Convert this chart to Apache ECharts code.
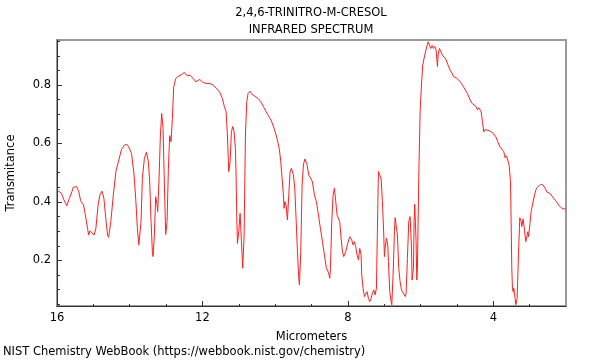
<!DOCTYPE html>
<html>
<head>
<meta charset="utf-8">
<script src="https://cdn.jsdelivr.net/npm/echarts@6/dist/echarts.min.js"></script>
<style>
  html, body { margin: 0; padding: 0; background: #fff; }
  #chart { width: 600px; height: 360px; }
</style>
</head>
<body>
<div id="chart"></div>
<script>
// Wavelength (micrometers) and transmittance
const wavelength = [
  15.99,15.88,15.81,15.73,15.66,15.59,15.55,15.46,15.40,15.35,15.27,15.22,15.16,15.13,15.09,15.036,14.98,14.93,14.87,14.82,
  14.76,14.71,14.65,14.61,14.58,14.52,14.45,14.38,14.30,14.23,14.14,14.08,14.03,13.95,13.88,13.83,13.79,13.75,13.71,
  13.688,13.652,13.597,13.542,13.487,13.450,13.413,13.377,13.358,13.322,13.285,13.248,13.230,13.193,13.156,13.120,13.083,
  13.046,13.010,12.973,12.936,12.900,12.863,12.826,12.790,12.735,12.680,12.625,12.570,12.496,12.441,12.386,12.331,12.258,
  12.184,12.129,12.074,12.001,11.928,11.799,11.708,11.616,11.524,11.451,11.396,
  11.349,11.313,11.276,11.239,11.203,11.166,11.129,11.093,11.074,11.056,11.037,11.001,10.964,10.927,10.891,10.854,10.817,
  10.781,10.744,10.689,10.634,10.561,10.469,10.396,10.322,10.249,10.194,10.102,10.029,9.974,9.919,9.882,9.845,9.809,
  9.772,9.754,9.735,9.699,9.662,9.625,9.589,9.552,9.497,9.460,9.424,9.387,9.350,9.332,9.295,9.259,9.222,9.185,9.130,
  9.075,9.020,
  8.975,8.920,8.865,8.810,8.755,8.700,8.645,8.590,8.534,8.498,8.479,8.443,8.406,8.369,8.333,8.296,8.259,8.223,8.186,
  8.149,8.113,8.058,8.003,7.948,7.893,7.856,7.819,7.783,7.746,7.709,7.673,7.636,7.618,7.581,7.544,7.507,7.471,7.434,
  7.397,7.361,7.324,7.287,7.251,7.214,7.177,7.159,7.122,7.086,7.049,7.012,6.994,6.976,6.939,6.902,6.884,6.847,6.811,
  6.792,6.756,6.719,
  6.700,6.673,6.637,6.600,6.563,6.527,6.472,6.417,6.398,6.362,6.325,6.288,6.252,6.233,6.196,6.178,6.160,6.123,6.105,
  6.086,6.050,6.013,5.976,5.940,5.885,5.830,5.793,5.756,5.720,5.683,5.646,5.610,5.573,5.536,5.518,5.481,5.426,5.389,
  5.353,5.316,5.279,5.243,5.188,5.133,5.096,5.023,4.949,4.876,4.821,4.766,4.711,4.674,4.638,4.583,4.546,4.472,4.436,
  4.399,4.362,
  4.334,4.298,4.261,4.224,4.169,4.096,4.004,3.931,3.876,3.821,3.766,3.711,3.674,3.637,3.601,3.564,3.527,3.509,3.491,
  3.472,3.454,3.436,3.399,3.381,3.362,3.344,3.307,3.271,3.234,3.216,3.179,3.142,3.106,3.069,3.051,3.032,2.995,2.959,
  2.922,2.867,2.812,2.757,2.702,2.665,2.629,2.574,2.519,2.445,2.390,2.335,2.262,2.188,2.133,2.060,2.005
];
const transmittance = [
  0.440,0.430,0.407,0.387,0.412,0.435,0.451,0.452,0.435,0.404,0.390,0.355,0.310,0.287,0.301,0.296,0.287,0.310,0.390,0.424,
  0.437,0.412,0.333,0.287,0.279,0.333,0.424,0.504,0.543,0.578,0.595,0.597,0.589,0.566,0.492,0.401,0.310,0.253,0.247,
  0.333,0.481,0.549,0.570,0.538,0.469,0.333,0.230,0.213,0.287,0.418,0.390,0.367,0.481,0.629,0.703,0.652,
  0.458,0.289,0.333,0.515,0.627,0.606,0.686,0.794,0.821,0.829,0.832,0.836,0.843,0.834,0.829,0.832,0.823,
  0.811,0.811,0.819,0.811,0.806,0.805,0.800,0.789,0.775,0.754,0.726,
  0.709,0.629,0.504,0.538,0.640,0.658,0.640,0.583,0.492,0.355,0.258,0.298,0.361,0.264,0.173,0.287,0.629,
  0.743,0.771,0.779,0.768,0.762,0.754,0.743,0.726,0.709,0.697,0.677,0.652,0.629,0.601,0.578,0.538,0.481,
  0.424,0.378,0.401,0.390,0.338,0.424,0.504,0.515,0.492,0.447,0.344,0.230,0.139,0.116,0.230,0.458,0.526,0.547,0.532,
  0.492,0.481,
  0.469,0.424,0.401,0.355,0.310,0.264,0.219,0.173,0.159,0.139,0.173,0.333,0.424,0.447,0.401,0.355,0.350,0.333,0.276,
  0.230,0.213,0.230,0.258,0.281,0.270,0.253,0.264,0.247,0.219,0.202,0.241,0.219,0.150,0.105,0.076,0.082,0.093,0.070,
  0.059,0.070,0.088,0.099,0.082,0.105,0.378,0.504,0.506,0.481,0.401,0.287,0.213,0.241,0.276,0.253,0.196,0.093,0.059,
  0.048,0.150,0.298,
  0.346,0.344,0.287,0.173,0.127,0.099,0.088,0.076,0.088,0.207,0.333,0.350,0.253,0.133,0.173,0.333,0.392,0.264,0.133,
  0.173,0.481,0.709,0.800,0.868,0.903,0.931,0.948,0.952,0.925,0.935,0.925,0.932,0.920,0.863,0.903,0.925,0.920,0.900,
  0.903,0.891,0.885,0.868,0.851,0.840,0.829,0.825,0.817,0.806,0.794,0.783,0.771,0.766,0.749,0.737,0.732,0.726,0.715,
  0.722,0.720,
  0.709,0.675,0.640,0.648,0.652,0.643,0.635,0.623,0.606,0.589,0.581,0.572,0.551,0.558,0.555,0.526,0.469,0.333,0.173,
  0.105,0.093,0.105,0.070,0.048,0.045,0.070,0.219,0.346,0.333,0.316,0.342,0.304,0.264,0.287,0.298,0.281,0.321,0.367,
  0.390,0.424,0.447,0.452,0.460,0.464,0.458,0.447,0.433,0.430,0.424,0.412,0.401,0.387,0.380,0.376,0.376
];
const xMajorTicks = [16, 12, 8, 4];
const xMinorTicks = [15, 14, 13, 11, 10, 9, 7, 6, 5, 3];
const yMajorTicks = [0.2, 0.4, 0.6, 0.8];
const yMinorTicks = [0.05, 0.1, 0.15, 0.25, 0.3, 0.35, 0.45, 0.5, 0.55, 0.65, 0.7, 0.75, 0.85, 0.9, 0.95];
const titleLines = ['2,4,6-TRINITRO-M-CRESOL', 'INFRARED SPECTRUM'];
const xName = 'Micrometers';
const yName = 'Transmitance';
const footer = 'NIST Chemistry WebBook (https://webbook.nist.gov/chemistry)';

const FONT = 'DejaVu Sans';
const FS = 11.5;
const points = wavelength.map((w, i) => [w, transmittance[i]]);

const chart = echarts.init(document.getElementById('chart'), null, { renderer: 'canvas' });
const xRange = { min: 2, max: 16, inverse: true };
const yRange = { min: 0.044, max: 0.954 };

chart.setOption({
  animation: false,
  backgroundColor: '#ffffff',
  grid: {
    left: 57, right: 34, top: 40, bottom: 54,
    containLabel: false, outerBoundsMode: 'none',
    show: true, borderColor: '#9a9a9a', borderWidth: 2, backgroundColor: 'transparent'
  },
  graphic: [
    { type: 'text', x: 311, y: 13, style: { text: titleLines[0], font: FS + 'px "' + FONT + '"', fill: '#000', textAlign: 'center', textVerticalAlign: 'middle' } },
    { type: 'text', x: 311, y: 30, style: { text: titleLines[1], font: FS + 'px "' + FONT + '"', fill: '#000', textAlign: 'center', textVerticalAlign: 'middle' } },
    { type: 'text', x: 3, y: 352, style: { text: footer, font: FS + 'px "' + FONT + '"', fill: '#000', textAlign: 'left', textVerticalAlign: 'middle' } }
  ],
  xAxis: [
    Object.assign({
      type: 'value', position: 'bottom',
      name: xName, nameLocation: 'middle', nameGap: 25,
      nameTextStyle: { fontFamily: FONT, fontSize: FS, color: '#000' },
      axisLine: { show: true, onZero: false, lineStyle: { color: '#333', width: 1 } },
      axisTick: { show: true, inside: true, length: 5, customValues: xMajorTicks, lineStyle: { color: '#333' } },
      axisLabel: { show: true, customValues: xMajorTicks, fontFamily: FONT, fontSize: FS, color: '#000', margin: 6 },
      splitLine: { show: false }
    }, xRange),
    Object.assign({
      type: 'value', position: 'bottom',
      axisLine: { show: false },
      axisTick: { show: true, inside: true, length: 2, customValues: xMinorTicks, lineStyle: { color: '#333' } },
      axisLabel: { show: false },
      splitLine: { show: false }
    }, xRange)
  ],
  yAxis: [
    Object.assign({
      type: 'value', position: 'left',
      name: yName, nameLocation: 'middle', nameGap: 40, nameRotate: 90,
      nameTextStyle: { fontFamily: FONT, fontSize: FS, color: '#000' },
      axisLine: { show: true, onZero: false, lineStyle: { color: '#333', width: 1 } },
      axisTick: { show: true, inside: true, length: 5, customValues: yMajorTicks, lineStyle: { color: '#333' } },
      axisLabel: { show: true, customValues: yMajorTicks, formatter: v => v.toFixed(1), fontFamily: FONT, fontSize: FS, color: '#000', margin: 6 },
      splitLine: { show: false }
    }, yRange),
    Object.assign({
      type: 'value', position: 'left',
      axisLine: { show: false },
      axisTick: { show: true, inside: true, length: 3, customValues: yMinorTicks, lineStyle: { color: '#333' } },
      axisLabel: { show: false },
      splitLine: { show: false }
    }, yRange)
  ],
  series: [{
    type: 'line',
    data: points,
    xAxisIndex: 0, yAxisIndex: 0,
    showSymbol: false,
    smooth: false,
    clip: true,
    lineStyle: { color: '#ff2020', width: 1 }
  }]
});
</script>
</body>
</html>
